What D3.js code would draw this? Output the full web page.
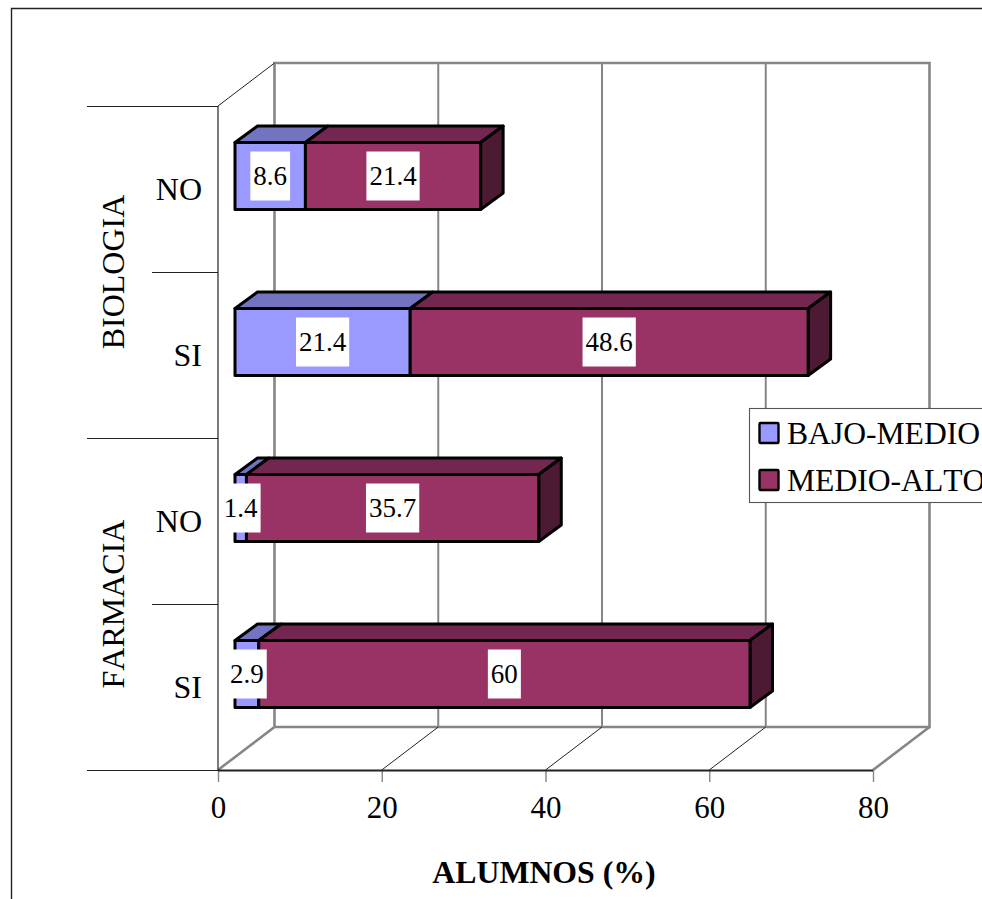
<!DOCTYPE html>
<html><head><meta charset="utf-8">
<script src="https://cdn.jsdelivr.net/npm/d3@7"></script>
<style>
html,body{margin:0;padding:0;background:#fff;overflow:hidden}
svg{display:block}
text{font-family:"Liberation Serif","Times New Roman",serif;fill:#000;font-kerning:none}
</style></head><body>
<svg id="c" width="982" height="899"></svg>
<script>
const groups = ["BIOLOGIA","FARMACIA"];
const categories = ["NO","SI","NO","SI"];
const categoryGroups = ["BIOLOGIA","BIOLOGIA","FARMACIA","FARMACIA"];
const seriesNames = ["BAJO-MEDIO","MEDIO-ALTO"];
const bajoMedio = [8.6,21.4,1.4,2.9];
const medioAlto = [21.4,48.6,35.7,60];
const xTicks = [0,20,40,60,80];
const axisTitle = "ALUMNOS (%)";

const W=982,H=899;
const svg=d3.select("#c");
const x=d3.scaleLinear().domain([0,80]).range([218,873]);
const y=d3.scaleBand().domain(d3.range(categories.length)).range([106,770]);
const DX=56.5,DY=-43;         // chart depth
const BX=22.5,BY=-16.5;       // bar depth
const barStart=17, barTop=36.5, barH=67;
const front=["#9999FF","#993366"],top_=["#7373BF","#732650"],side=["#4D4D80","#4D1A33"];
const gray="#868686";

// outer frame
svg.append("path").attr("d",`M11.5,${H}V8.5H${W}`).attr("fill","none").attr("stroke","#222").attr("stroke-width",1.4);

// walls
const g=svg.append("g").attr("fill","none");
const x0=x(0),x1=x(80),yT=y.range()[0],yB=y.range()[1];
g.append("path").attr("d",`M${x0+DX},${yB+DY}V${yT+DY}H${x1+DX}V${yB+DY}H${x0+DX}`).attr("stroke",gray).attr("stroke-width",2.6);
xTicks.slice(1,-1).forEach(t=>{
  g.append("line").attr("x1",x(t)+DX).attr("x2",x(t)+DX).attr("y1",yT+DY).attr("y2",yB+DY).attr("stroke",gray).attr("stroke-width",2);
  g.append("line").attr("x1",x(t)).attr("x2",x(t)+DX).attr("y1",yB).attr("y2",yB+DY).attr("stroke","#222").attr("stroke-width",1);
});
g.append("line").attr("x1",x0).attr("x2",x0+DX).attr("y1",yB).attr("y2",yB+DY).attr("stroke",gray).attr("stroke-width",2.6);
g.append("line").attr("x1",x1).attr("x2",x1+DX).attr("y1",yB).attr("y2",yB+DY).attr("stroke",gray).attr("stroke-width",2.6);
g.append("line").attr("x1",x0).attr("x2",x0+DX).attr("y1",yT).attr("y2",yT+DY).attr("stroke","#222").attr("stroke-width",1);

// x axis
const ax=svg.append("g").attr("transform",`translate(0,${yB})`)
  .call(d3.axisBottom(x).tickValues(xTicks).tickSize(12).tickPadding(14).tickFormat(d3.format("d")));
ax.select(".domain").remove();
ax.selectAll("line").attr("stroke",gray).attr("stroke-width",1.4);
ax.selectAll("text").attr("font-size",31).attr("font-family",'"Liberation Serif"').attr("fill","#000");
svg.append("line").attr("x1",x0).attr("x2",x1).attr("y1",yB+.5).attr("y2",yB+.5).attr("stroke","#222").attr("stroke-width",1.8);

// category separators and left axis
svg.append("line").attr("x1",x0).attr("x2",x0).attr("y1",yT).attr("y2",yB).attr("stroke","#333").attr("stroke-width",1.3);
d3.range(categories.length+1).forEach(i=>{
  const yy=i<categories.length?y(i):yB, outer=i%2===0;
  svg.append("line").attr("x1",outer?87:152).attr("x2",x0).attr("y1",yy+.5).attr("y2",yy+.5).attr("stroke","#222").attr("stroke-width",1.2);
});
categories.forEach((c,i)=>{
  svg.append("text").attr("x",202).attr("y",y(i)+y.bandwidth()/2).attr("dy","0.35em").attr("text-anchor","end").attr("font-size",32).text(c);
});
groups.forEach(name=>{
  const idx=categoryGroups.indexOf(name);
  const cy=y(idx)+y.bandwidth();
  svg.append("text").attr("transform",`translate(113,${cy}) rotate(-90)`).attr("dy","0.35em").attr("text-anchor","middle").attr("font-size",32).text(name);
});

// bars
const bars=svg.append("g");
categories.forEach((c,i)=>{
  const yy=y(i)+barTop;
  const a=x(0)+barStart, b=a+x(bajoMedio[i])-x(0), e=b+x(medioAlto[i])-x(0);
  const seg=[[a,b,0],[b,e,1]];
  const st={stroke:"#000","stroke-width":3,"stroke-linejoin":"round"};
  const add=(d,fill)=>{const p=bars.append("path").attr("d",d).attr("fill",fill);for(const k in st)p.attr(k,st[k]);};
  seg.forEach(([l,r,s])=>{
    add(`M${l},${yy}L${l+BX},${yy+BY}H${r+BX}L${r},${yy}Z`,top_[s]);
  });
  add(`M${e},${yy}L${e+BX},${yy+BY}V${yy+BY+barH}L${e},${yy+barH}Z`,side[1]);
  seg.forEach(([l,r,s])=>{
    add(`M${l},${yy}H${r}V${yy+barH}H${l}Z`,front[s]);
  });
});
// value labels
const labels=svg.append("g");
categories.forEach((c,i)=>{
  const yy=y(i)+barTop+barH/2;
  const a=x(0)+barStart, b=a+x(bajoMedio[i])-x(0), e=b+x(medioAlto[i])-x(0);
  [[bajoMedio[i],(a+b)/2],[medioAlto[i],(b+e)/2]].forEach(([v,cx])=>{
    const r=labels.append("rect");
    const t=labels.append("text").attr("x",cx).attr("y",yy).attr("dy","0.35em").attr("text-anchor","middle").attr("font-size",27).text(v);
    const w=t.node().getComputedTextLength();
    r.attr("x",cx-w/2-3).attr("y",yy-24.5).attr("width",w+6).attr("height",49).attr("fill","#fff");
  });
});

// legend
const lg=svg.append("g");
lg.append("rect").attr("x",749.5).attr("y",408.5).attr("width",300).attr("height",94).attr("fill","#fff").attr("stroke","#555").attr("stroke-width",1.1);
seriesNames.forEach((n,i)=>{
  const ly=433+i*47;
  lg.append("rect").attr("x",759.5).attr("y",ly-10).attr("width",19).attr("height",20).attr("rx",1).attr("fill",front[i]).attr("stroke","#000").attr("stroke-width",2.4);
  lg.append("text").attr("x",787).attr("y",ly).attr("dy","0.35em").attr("font-size",31.6).text(n);
});

// axis title
svg.append("text").attr("x",544).attr("y",872).attr("dy","0.35em").attr("text-anchor","middle").attr("font-weight","bold").attr("font-size",31.8).text(axisTitle);
</script>
</body></html>
